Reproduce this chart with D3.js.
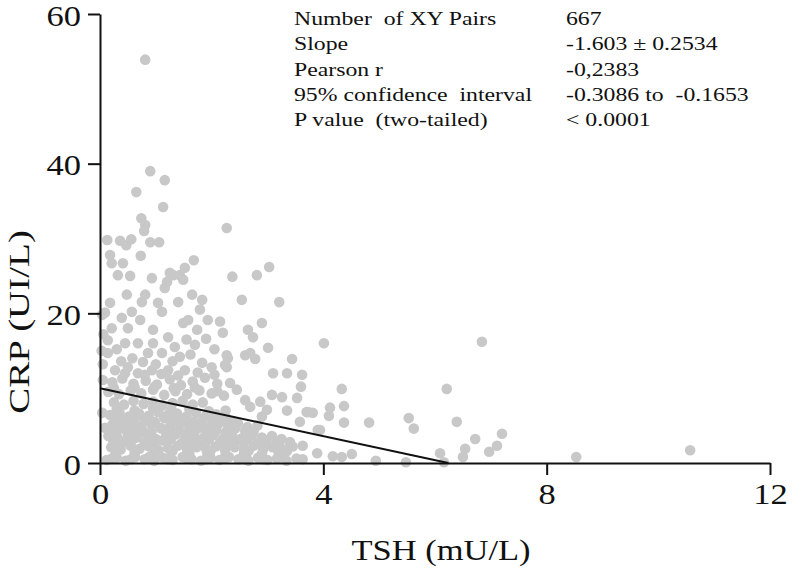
<!DOCTYPE html>
<html>
<head>
<meta charset="utf-8">
<script src="https://cdn.jsdelivr.net/npm/d3@7"></script>
<style>
	body { margin: 0; background: #fff; }
	svg { display: block; }
	text { font-family: "Liberation Serif", "Times New Roman", serif; }
</style>
</head>
<body>
<svg></svg>
<script>
// TSH (mU/L) vs CRP (UI/L), pairs
const upperPoints = [
	[0.81, 53.9], [0.9, 39.0], [1.16, 37.8], [0.65, 36.2], [1.13, 34.2], [0.74, 32.7], [0.81, 31.8],
	[0.79, 31.0], [2.27, 31.4], [0.13, 29.8], [0.36, 29.7], [0.47, 29.1], [0.56, 29.9], [0.9, 29.5],
	[1.06, 29.5], [0.18, 27.8], [0.21, 26.7], [0.41, 26.7], [0.73, 27.7], [1.68, 27.1], [1.52, 26.1],
	[3.03, 26.2], [2.81, 25.1], [0.32, 25.1], [0.54, 25.0], [0.93, 24.7], [1.25, 25.4], [1.43, 25.1],
	[2.37, 24.9], [1.31, 25.1], [1.49, 24.5], [1.2, 24.2], [1.16, 23.4], [0.48, 22.5], [0.81, 22.5],
	[0.75, 21.5], [1.04, 21.4], [1.4, 21.5], [1.65, 22.5], [1.83, 21.8], [2.54, 21.8], [3.21, 21.5],
	[1.11, 20.2], [1.79, 20.5], [0.18, 21.4], [0.09, 20.1], [0.57, 20.2], [0.39, 19.4], [0.72, 19.1],
	[1.49, 18.7], [1.58, 19.1], [1.93, 19.1], [2.15, 18.9], [2.9, 18.7], [0.21, 18.0], [0.5, 18.0],
	[0.95, 17.8], [1.74, 17.8], [2.2, 17.4], [2.65, 17.8], [1.22, 16.8], [2.74, 16.8], [0.14, 16.4],
	[0.45, 16.0], [0.68, 16.0], [0.95, 16.0], [1.34, 15.5], [3.01, 15.4], [4.01, 16.0], [6.84, 16.2],
	[0.14, 14.7], [0.86, 14.7], [1.11, 14.7], [1.43, 14.2], [2.69, 14.7], [2.78, 13.9], [3.44, 13.9],
	[2.29, 14.0], [2.6, 14.4], [2.27, 14.4], [1.83, 13.4], [2.0, 12.8], [2.27, 12.8], [0.27, 12.4],
	[0.5, 12.8], [0.68, 12.0], [0.93, 12.4], [1.22, 12.4], [1.52, 12.4], [2.24, 13.1], [3.1, 12.0],
	[3.35, 12.0], [3.62, 11.8], [0.04, 19.8], [0.06, 17.2], [0.03, 15.0], [0.05, 13.2], [0.3, 15.2],
	[0.58, 14.0], [0.77, 13.5], [1.0, 13.2], [1.3, 13.6], [1.62, 14.5], [1.7, 15.8], [1.9, 16.6],
	[2.05, 15.2], [0.38, 13.6], [1.55, 16.5]
];

const midPoints = [
	[0.05, 11.1], [0.22, 10.8], [0.4, 11.3], [0.6, 10.6], [0.82, 11.0], [1.02, 10.5], [1.25, 11.2],
	[1.45, 10.4], [1.66, 10.9], [1.88, 11.4], [2.1, 10.6], [2.33, 10.7], [2.45, 9.8], [3.6, 10.2],
	[4.33, 9.9], [6.21, 9.9], [3.08, 9.1], [3.26, 8.8], [3.53, 8.7], [2.6, 8.4], [2.87, 8.2],
	[0.15, 9.5], [0.34, 9.2], [0.55, 9.7], [0.74, 9.3], [0.95, 9.8], [1.15, 9.1], [1.35, 9.6],
	[1.56, 9.2], [1.78, 9.7], [2.0, 9.3], [2.22, 9.0], [0.04, 6.7], [0.09, 4.7],
	[0.25, 10.0], [0.62, 10.1], [0.98, 10.2], [1.32, 10.0], [1.7, 10.1], [2.1, 9.6],
	[0.45, 12.0], [0.8, 11.8], [1.1, 11.9], [1.4, 11.7], [1.75, 12.1], [2.05, 11.8]
];

const lowPoints = [
	[0.25, 8.1], [0.43, 7.8], [0.6, 8.3], [0.78, 7.9], [0.95, 8.2], [1.12, 7.7], [1.3, 8.0], [1.48, 8.3],
	[1.66, 7.8], [1.84, 8.1], [2.69, 7.5], [2.99, 7.1], [3.35, 7.0], [3.73, 6.8], [4.12, 7.4], [4.37, 7.6],
	[0.3, 7.2], [0.62, 7.0], [0.95, 7.3], [1.28, 7.1], [1.6, 7.2], [1.95, 6.9], [2.25, 7.0],
	[0.18, 6.4], [0.35, 6.7], [0.52, 6.2], [0.7, 6.6], [0.87, 6.3], [1.04, 6.8], [1.21, 6.4], [1.38, 6.6],
	[1.55, 6.2], [1.72, 6.7], [1.9, 6.3], [2.08, 6.5], [2.25, 6.1], [2.9, 6.2], [3.7, 6.8], [3.81, 6.7],
	[4.1, 6.3], [0.45, 5.8], [0.8, 5.7], [1.15, 6.0], [1.5, 5.6], [1.85, 5.9], [2.2, 5.7],
	[0.28, 5.6], [0.62, 5.9], [0.98, 5.5], [1.33, 5.7], [1.68, 5.5], [2.02, 5.8], [2.38, 5.6],
	[0.22, 5.1], [0.4, 4.8], [0.57, 5.3], [0.74, 4.9], [0.92, 5.2], [1.08, 4.7], [1.26, 5.0], [1.43, 5.3],
	[1.6, 4.9], [1.78, 5.1], [1.95, 4.8], [2.12, 5.2], [2.3, 4.9], [2.47, 5.3], [2.64, 4.8], [2.82, 5.0],
	[3.58, 5.5], [4.37, 5.4], [4.82, 5.4], [5.53, 6.0], [5.62, 4.6], [6.39, 5.5],
	[0.3, 4.2], [0.6, 4.4], [0.92, 4.1], [1.26, 4.5], [1.58, 4.2], [1.9, 4.4], [2.25, 4.1], [2.6, 4.3],
	[0.15, 4.6], [0.45, 4.5], [0.77, 4.3], [1.1, 4.6], [1.42, 4.4], [1.75, 4.6], [2.08, 4.3], [2.42, 4.6],
	[2.75, 4.2],
	[0.15, 3.6], [0.32, 3.3], [0.5, 3.8], [0.66, 3.4], [0.84, 3.7], [1.0, 3.2], [1.18, 3.5], [1.35, 3.8],
	[1.52, 3.3], [1.69, 3.6], [1.86, 3.4], [2.03, 3.7], [2.2, 3.2], [2.37, 3.6], [2.54, 3.3], [2.72, 3.7],
	[2.9, 3.4], [3.08, 3.6], [3.25, 3.2], [3.9, 4.4], [3.94, 4.4],
	[0.24, 2.9], [0.58, 3.1], [0.92, 2.9], [1.27, 3.2], [1.61, 2.9], [1.95, 3.1], [2.29, 2.9], [2.63, 3.1],
	[2.98, 3.0], [3.17, 2.6], [3.4, 2.8],
	[0.45, 2.8], [0.8, 2.7], [1.12, 3.0], [1.46, 2.6], [1.8, 2.9], [2.15, 2.7], [2.48, 3.0], [2.82, 2.7],
	[0.2, 2.1], [0.37, 1.8], [0.55, 2.3], [0.71, 1.9], [0.88, 2.2], [1.05, 1.7], [1.22, 2.0], [1.39, 2.3],
	[1.56, 1.8], [1.73, 2.1], [1.9, 1.9], [2.07, 2.2], [2.24, 1.7], [2.41, 2.1], [2.58, 1.9], [2.75, 2.3],
	[2.92, 1.8], [3.09, 2.1], [3.26, 1.9], [3.45, 2.2], [3.63, 2.3], [6.72, 3.2], [7.2, 3.9], [7.11, 2.3],
	[6.97, 1.5], [6.54, 1.9],
	[0.29, 2.4], [0.63, 1.6], [0.97, 2.5], [1.3, 1.6], [1.65, 2.4], [1.98, 1.6], [2.32, 2.5], [2.66, 1.6],
	[3.0, 2.4], [3.35, 1.6],
	[0.28, 1.2], [0.62, 1.4], [0.95, 1.1], [1.28, 1.5], [1.6, 1.2], [1.92, 1.4], [2.25, 1.1], [2.58, 1.3],
	[2.9, 1.2], [3.2, 1.4],
	[0.21, 0.6], [0.55, 0.5], [0.88, 0.8], [1.22, 0.5], [1.56, 0.6], [1.9, 0.5], [2.23, 0.6], [2.57, 0.7],
	[2.92, 0.5], [3.26, 0.8],
	[0.12, 0.4], [0.3, 0.7], [0.46, 0.3], [0.63, 0.8], [0.8, 0.5], [0.97, 0.3], [1.13, 0.7], [1.3, 0.4],
	[1.48, 0.8], [1.64, 0.5], [1.81, 0.3], [1.98, 0.7], [2.14, 0.4], [2.31, 0.8], [2.48, 0.5], [2.66, 0.3],
	[2.83, 0.7], [3.0, 0.4], [3.17, 0.6], [3.34, 0.3], [3.52, 0.6], [3.63, 0.5], [3.89, 1.3], [4.17, 0.9],
	[4.33, 0.8], [4.51, 1.2], [4.94, 0.3], [5.48, 0.1], [6.5, 0.8], [6.09, 1.3], [6.16, 0.1], [8.53, 0.8],
	[10.57, 1.7]
];

const xTicks = [0, 4, 8, 12];
const yTicks = [0, 20, 40, 60];
const fitSlope = -1.603;
const fitIntercept = 10.0;

const statLabels = ["Number  of XY Pairs", "Slope", "Pearson r", "95% confidence  interval", "P value  (two-tailed)"];
const statValues = ["667", "-1.603 \u00b1 0.2534", "-0,2383", "-0.3086 to  -0.1653", "< 0.0001"];

const size = { w: 793, h: 568 };
const margin = { t: 14, r: 23, b: 105, l: 100 };
const svg = d3.select("svg").attr("width", size.w).attr("height", size.h);

const xScale = d3.scaleLinear().domain([0, 12]).range([margin.l, size.w - margin.r]);
const yScale = d3.scaleLinear().domain([0, 60]).range([size.h - margin.b, margin.t]);

const serif = "'Liberation Serif', 'Times New Roman', serif";
const stretch = 1.15;
const data = upperPoints.concat(midPoints, lowPoints);

// points
svg.append("g")
	.selectAll("circle")
	.data(data)
	.join("circle")
	.attr("cx", (d) => xScale(d[0]))
	.attr("cy", (d) => yScale(d[1]))
	.attr("r", 5.3)
	.attr("fill", "#c8c8c8");

// regression line, drawn down to where it hits 0
const xEnd = -fitIntercept / fitSlope;
svg.append("line")
	.attr("x1", xScale(0))
	.attr("y1", yScale(fitIntercept))
	.attr("x2", xScale(xEnd))
	.attr("y2", yScale(0))
	.attr("stroke", "#111")
	.attr("stroke-width", 2);

// axes
const xAxisG = svg.append("g")
	.attr("transform", `translate(0, ${yScale(0)})`)
	.call(d3.axisBottom(xScale).tickValues(xTicks).tickSize(12).tickSizeOuter(0).tickFormat(d3.format("d")));
const yAxisG = svg.append("g")
	.attr("transform", `translate(${xScale(0)}, 0)`)
	.call(d3.axisLeft(yScale).tickValues(yTicks).tickSize(12).tickSizeOuter(0).tickFormat(d3.format("d")));

[xAxisG, yAxisG].forEach((g) => {
	g.attr("font-family", serif);
	g.select(".domain").attr("stroke", "#111").attr("stroke-width", 2);
	g.selectAll(".tick line").attr("stroke", "#111").attr("stroke-width", 2);
	g.selectAll(".tick text")
		.attr("fill", "#111")
		.style("font-size", "30px")
		.style("font-family", serif);
});
xAxisG.selectAll(".tick text")
	.attr("y", null).attr("dy", null)
	.attr("transform", `translate(0, 41) scale(${stretch}, 1)`);
yAxisG.selectAll(".tick text")
	.attr("x", null).attr("dy", null)
	.attr("transform", `translate(-19, 11) scale(${stretch}, 1)`);

// axis titles
svg.append("text")
	.attr("transform", `translate(${(xScale(0) + xScale(12)) / 2 + 6}, 560) scale(${stretch}, 1)`)
	.attr("text-anchor", "middle")
	.style("font-size", "30px")
	.style("font-family", serif)
	.attr("fill", "#111")
	.text("TSH (mU/L)");
svg.append("text")
	.attr("transform", `translate(29, 322) rotate(-90) scale(1.3, 1)`)
	.attr("text-anchor", "middle")
	.style("font-size", "30px")
	.style("font-family", serif)
	.attr("fill", "#111")
	.text("CRP (UI/L)");

// stats block
statLabels.forEach((e, i) => {
	svg.append("text")
		.attr("transform", `translate(294, ${25 + i * 25.3}) scale(1.25, 1)`)
		.style("font-size", "19px")
		.style("font-family", serif)
		.style("white-space", "pre")
		.attr("fill", "#111")
		.text(e);
	svg.append("text")
		.attr("transform", `translate(566, ${25 + i * 25.3}) scale(1.25, 1)`)
		.style("font-size", "19px")
		.style("font-family", serif)
		.style("white-space", "pre")
		.attr("fill", "#111")
		.text(statValues[i]);
});
</script>
</body>
</html>
